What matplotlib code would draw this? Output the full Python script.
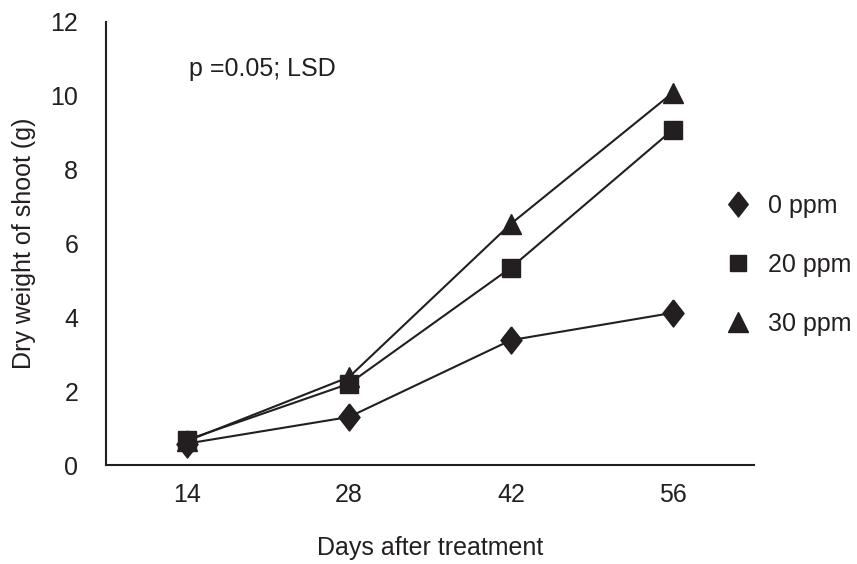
import matplotlib.pyplot as plt
from matplotlib.lines import Line2D

plt.rcParams['font.family'] = ['Liberation Sans', 'DejaVu Sans']

# Данные графика
days = ['14', '28', '42', '56']
ppm0 = [0.58, 1.3, 3.38, 4.12]
ppm20 = [0.68, 2.2, 5.34, 9.08]
ppm30 = [0.65, 2.38, 6.53, 10.08]
labels = ['0 ppm', '20 ppm', '30 ppm']

col = '#231f20'
diamond = [(0, 1), (0.78, 0), (0, -1), (-0.78, 0), (0, 1)]
x = range(len(days))

fig = plt.figure(figsize=(8.57, 5.64), dpi=100)
ax = fig.add_axes([0.1237, 0.1755, 0.756, 0.786])

ax.plot(x, ppm0, color=col, lw=1.5, marker=diamond, ms=19.5, mec=col, mfc=col)
ax.plot(x, ppm20, color=col, lw=1.5, marker='s', ms=12.5, mec=col, mfc=col)
ax.plot(x, ppm30, color=col, lw=1.5, marker='^', ms=14.5, mec=col, mfc=col)

ax.set_xlim(-0.5, 3.5)
ax.set_ylim(0, 12)
ax.set_xticks(list(x))
ax.set_xticklabels(days)
ax.set_yticks(range(0, 13, 2))
ax.tick_params(length=0, labelsize=18, colors=col)
ax.tick_params(axis='y', pad=20)
ax.tick_params(axis='x', pad=13)
for s in ['top', 'right']:
    ax.spines[s].set_visible(False)
for s in ['left', 'bottom']:
    ax.spines[s].set_color(col)
    ax.spines[s].set_linewidth(1.5)

ax.set_xlabel('Days after treatment', fontsize=18, color=col, labelpad=21)
ax.set_ylabel('Dry weight of shoot (g)', fontsize=18, color=col, labelpad=10)
ax.text(0.128, 0.878, 'p =0.05; LSD', transform=ax.transAxes, fontsize=18,
        color=col, va='baseline')

# Легенда только с маркерами
handles = [
    Line2D([], [], ls='none', marker=diamond, ms=18, color=col),
    Line2D([], [], ls='none', marker='s', ms=11, color=col),
    Line2D([], [], ls='none', marker='^', ms=14.5, color=col),
]
fig.legend(handles, labels, loc='center left', bbox_to_anchor=(0.835, 0.53),
           frameon=False, fontsize=18, labelspacing=1.4, handlelength=1.0,
           handletextpad=0.7, borderaxespad=0, labelcolor=col)

plt.savefig('out.png', dpi=100)
